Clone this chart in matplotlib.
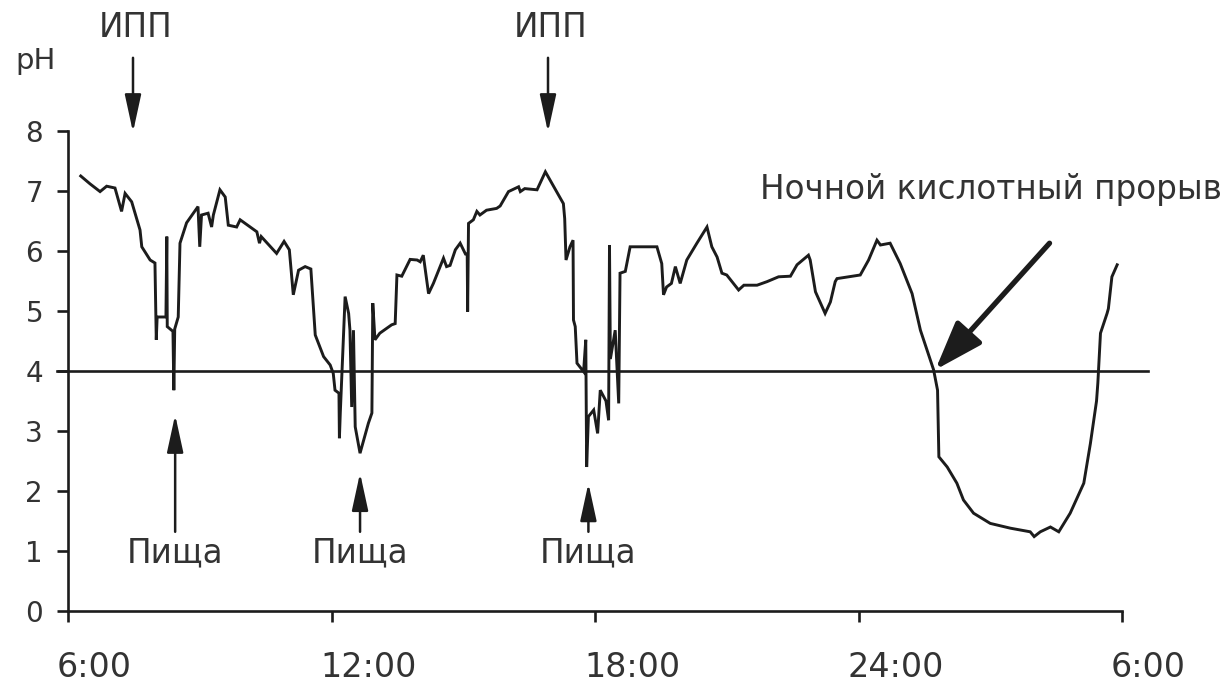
import numpy as np
import matplotlib
matplotlib.use('Agg')
import matplotlib.pyplot as plt
import matplotlib.transforms as mtransforms

plt.rcParams['font.family'] = ['DejaVu Sans']

# hours after 6:00, pH
hours = [0.29, 0.50, 0.73, 0.88, 1.07, 1.22, 1.30, 1.45, 1.64, 1.68, 1.87, 1.98,
         2.01, 2.03, 2.23, 2.25, 2.26, 2.39, 2.41, 2.43, 2.51, 2.55, 2.70, 2.96,
         3.00, 3.04, 3.19, 3.27, 3.31, 3.46, 3.58, 3.65, 3.84, 3.92, 4.30, 4.36,
         4.40, 4.75, 4.92, 5.04, 5.13, 5.25, 5.40, 5.53, 5.63, 5.82, 5.97, 6.04,
         6.08, 6.17, 6.18, 6.20, 6.31, 6.39, 6.42, 6.46, 6.50, 6.54, 6.65, 6.84,
         6.92, 6.94, 6.99, 7.10, 7.37, 7.45, 7.49, 7.60, 7.79, 7.95, 8.02, 8.09,
         8.21, 8.32, 8.55, 8.62, 8.70, 8.82, 8.93, 9.05, 9.09, 9.10, 9.12, 9.23,
         9.31, 9.38, 9.53, 9.76, 9.84, 10.03, 10.26, 10.30, 10.40, 10.68, 10.87, 11.28,
         11.31, 11.34, 11.43, 11.50, 11.51, 11.55, 11.59, 11.74, 11.79, 11.81, 11.85, 11.97,
         12.06, 12.12, 12.25, 12.31, 12.33, 12.35, 12.46, 12.54, 12.57, 12.69, 12.80, 13.41,
         13.52, 13.56, 13.63, 13.74, 13.83, 13.94, 14.09, 14.32, 14.55, 14.66, 14.78, 14.89,
         15.00, 15.27, 15.39, 15.69, 15.92, 16.18, 16.45, 16.60, 16.86, 16.90, 17.02, 17.24,
         17.36, 17.47, 17.51, 18.04, 18.23, 18.42, 18.50, 18.72, 18.95, 19.22, 19.41, 19.71,
         19.80, 19.83, 20.02, 20.24, 20.39, 20.62, 21.00, 21.46, 21.91, 22.00, 22.14, 22.37,
         22.56, 22.82, 23.13, 23.28, 23.39, 23.42, 23.45, 23.51, 23.66, 23.69, 23.77, 23.89]
ph = [7.25, 7.12, 6.99, 7.08, 7.05, 6.66, 6.96, 6.82, 6.35, 6.07, 5.85, 5.80,
      4.52, 4.90, 4.90, 6.24, 4.74, 4.66, 3.68, 4.70, 4.90, 6.13, 6.47, 6.74,
      6.07, 6.60, 6.63, 6.40, 6.60, 7.02, 6.90, 6.43, 6.40, 6.52, 6.32, 6.13,
      6.24, 5.96, 6.16, 6.02, 5.27, 5.68, 5.74, 5.70, 4.60, 4.24, 4.10, 3.96,
      3.68, 3.63, 2.88, 3.30, 5.24, 4.96, 4.68, 3.40, 4.68, 3.07, 2.63, 3.13,
      3.30, 5.13, 4.52, 4.63, 4.77, 4.79, 5.60, 5.58, 5.86, 5.85, 5.82, 5.93,
      5.29, 5.46, 5.88, 5.74, 5.76, 6.02, 6.13, 5.95, 5.95, 4.99, 6.46, 6.52,
      6.66, 6.60, 6.68, 6.71, 6.75, 6.99, 7.07, 6.99, 7.04, 7.02, 7.32, 6.79,
      6.54, 5.85, 6.07, 6.18, 4.85, 4.74, 4.13, 3.99, 4.52, 2.40, 3.24, 3.35,
      2.96, 3.68, 3.50, 3.18, 6.10, 4.20, 4.68, 3.46, 5.63, 5.66, 6.07, 6.07,
      5.79, 5.27, 5.40, 5.46, 5.74, 5.46, 5.85, 6.13, 6.40, 6.07, 5.90, 5.63,
      5.60, 5.35, 5.43, 5.43, 5.49, 5.57, 5.58, 5.77, 5.93, 5.85, 5.32, 4.96,
      5.15, 5.49, 5.54, 5.60, 5.85, 6.18, 6.10, 6.13, 5.79, 5.29, 4.68, 4.02,
      3.68, 2.57, 2.40, 2.13, 1.85, 1.63, 1.46, 1.38, 1.32, 1.24, 1.32, 1.40,
      1.32, 1.63, 2.13, 2.79, 3.35, 3.50, 3.80, 4.63, 4.96, 5.04, 5.57, 5.77]

tick_hours = [0, 6, 12, 18, 24]
tick_labels = ['6:00', '12:00', '18:00', '24:00', '6:00']
ph_ticks = [0, 1, 2, 3, 4, 5, 6, 7, 8]
threshold = 4

ppi_hours = [1.48, 10.93]
meal_hours = [2.44, 6.65, 11.85]
meal_tips = [3.27, 2.30, 2.13]
breakthrough = (19.75, 4.02)

ink = '#1c1c1c'
txt = '#333333'
fig = plt.figure(figsize=(12.27, 6.85), dpi=100)
ax = fig.add_axes([68 / 1227, 74 / 685, 1054 / 1227, 480 / 685])

ax.plot(hours, ph, color=ink, lw=2.1, solid_joinstyle='miter')
ax.plot([-0.25, 24.6], [threshold, threshold], color=ink, lw=1.9, clip_on=False)

ax.set_xlim(0, 24)
ax.set_ylim(0, 8)
for s in ['top', 'right']:
    ax.spines[s].set_visible(False)
for s in ['left', 'bottom']:
    ax.spines[s].set_linewidth(1.9)
    ax.spines[s].set_color(ink)

ax.set_xticks(tick_hours)
ax.set_xticklabels(tick_labels, fontsize=24, color=txt, ha='left')
ax.set_yticks(ph_ticks)
ax.set_yticklabels([str(v) for v in ph_ticks], fontsize=20, color=txt)
ax.tick_params(axis='x', length=8, width=1.9, color=ink, pad=21)
ax.tick_params(axis='y', length=8, width=1.9, color=ink, pad=10)
off = mtransforms.ScaledTranslation(-0.11, 0, fig.dpi_scale_trans)
for lab in ax.get_xticklabels():
    lab.set_transform(lab.get_transform() + off)

fig.text(15 / 1227, 1 - 61 / 685, 'pH', fontsize=21, color=txt, va='center')

small_head = '-|>,head_length=2.3,head_width=0.5'
for h in ppi_hours:
    ax.annotate('', xy=(h, 7.98), xytext=(h, 9.22), annotation_clip=False,
                arrowprops=dict(arrowstyle=small_head, color=ink, lw=1.8,
                                mutation_scale=10, shrinkA=0, shrinkB=0))
    ax.text(h + 0.05, 9.72, 'ИПП', fontsize=23.5, color=txt,
            ha='center', va='center', clip_on=False)

for h, tip in zip(meal_hours, meal_tips):
    ax.annotate('', xy=(h, tip), xytext=(h, 1.32), annotation_clip=False,
                arrowprops=dict(arrowstyle=small_head, color=ink, lw=1.8,
                                mutation_scale=10, shrinkA=0, shrinkB=0))
    ax.text(h, 0.97, 'Пища', fontsize=23.5, color=txt,
            ha='center', va='center')

ax.annotate('', xy=breakthrough, xytext=(22.35, 6.13), annotation_clip=False,
            arrowprops=dict(arrowstyle='-|>,head_length=3.0,head_width=1.05',
                            color=ink, lw=3.8, mutation_scale=10,
                            shrinkA=0, shrinkB=0))
ax.text(15.76, 7.02, 'Ночной кислотный прорыв', fontsize=23.5, color=txt,
        ha='left', va='center', clip_on=False)

fig.savefig('out.png', dpi=100)
